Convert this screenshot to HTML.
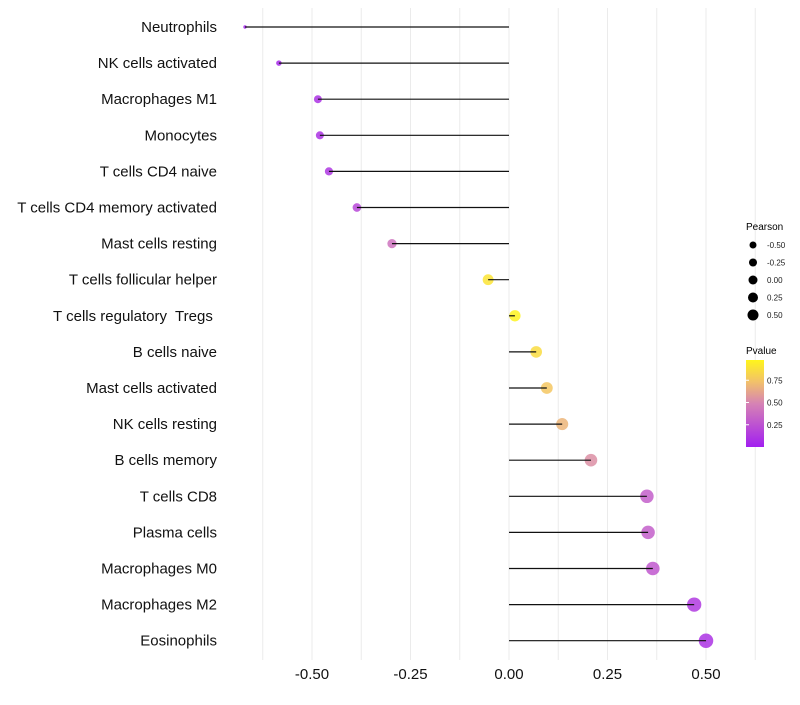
<!DOCTYPE html>
<html><head><meta charset="utf-8"><style>
body{margin:0;background:#fff;}
svg text{font-family:"Liberation Sans",sans-serif;white-space:pre;}
</style></head><body>
<svg id="chart" width="800" height="700" xmlns="http://www.w3.org/2000/svg">
<defs><linearGradient id="pg" x1="0" y1="1" x2="0" y2="0">
<stop offset="0" stop-color="#a21ff0"/><stop offset="0.5" stop-color="#d683b4"/><stop offset="0.75" stop-color="#f2c16a"/><stop offset="1" stop-color="#fff51c"/></linearGradient></defs>
<g id="grid"></g>
<g id="marks"></g>
<g id="ylabels"></g>
<g id="xlabels"></g>
<g id="sizeLeg">
<text x="746" y="230" font-size="10">Pearson</text>
</g>
<g id="colLeg">
<text x="746" y="354" font-size="10">Pvalue</text>
<rect x="746" y="360" width="18" height="87" fill="url(#pg)"/>
</g>
</svg>
<script>
const categories=["Neutrophils","NK cells activated","Macrophages M1","Monocytes","T cells CD4 naive","T cells CD4 memory activated","Mast cells resting","T cells follicular helper","T cells regulatory  Tregs ","B cells naive","Mast cells activated","NK cells resting","B cells memory","T cells CD8","Plasma cells","Macrophages M0","Macrophages M2","Eosinophils"];
const pearson=[-0.67,-0.584,-0.485,-0.48,-0.457,-0.386,-0.297,-0.053,0.015,0.069,0.096,0.135,0.208,0.35,0.353,0.365,0.47,0.5];
const pvalue=[0.02,0.05,0.1,0.1,0.12,0.2,0.42,0.92,0.99,0.88,0.78,0.7,0.55,0.32,0.32,0.28,0.13,0.1];
const xTicks=[-0.5,-0.25,0,0.25,0.5];
const xTickLabels=["-0.50","-0.25","0.00","0.25","0.50"];
const sizeLegVals=[-0.5,-0.25,0,0.25,0.5];
const sizeLegLabels=["-0.50","-0.25","0.00","0.25","0.50"];
const colLegVals=[0.25,0.5,0.75];
const colLegLabels=["0.25","0.50","0.75"];

const NS="http://www.w3.org/2000/svg";
const xs=v=>509+v*394;
const ys=i=>27+i*36.1;
const rs=v=>v<-0.485?1.7+(v+0.67)/0.185*2.3:4+3.3*(v+0.485);
const rl=v=>4.5+2*v;
const stops=[[0,[162,31,240]],[0.5,[214,131,180]],[0.75,[242,193,106]],[1,[255,245,28]]];
function col(p){for(let k=1;k<stops.length;k++){if(p<=stops[k][0]){const a=stops[k-1],b=stops[k];const t=(p-a[0])/(b[0]-a[0]);const c=a[1].map((v,j)=>Math.round(v+(b[1][j]-v)*t));return `rgb(${c})`;}}return "rgb(255,245,28)";}
function mk(tag,at,parent){const e=document.createElementNS(NS,tag);for(const k in at)e.setAttribute(k,at[k]);document.getElementById(parent).appendChild(e);return e;}
for(let v=-0.625;v<=0.626;v+=0.125){
 const g=mk("line",{x1:xs(v),x2:xs(v),y1:8,y2:660,stroke:"#ebebeb","stroke-width":1},"grid");
 
 
}
categories.forEach((c,i)=>{
 const y=ys(i);
 const p=mk("circle",{cx:xs(pearson[i]),cy:y,r:rs(pearson[i]),fill:col(pvalue[i]),"fill-opacity":0.85},"marks");
 
 
 const l=mk("line",{x1:xs(0),x2:xs(pearson[i]),y1:y,y2:y,stroke:"#111","stroke-width":1.2},"marks");
 
 
 const t=mk("text",{x:217,y:y+5,"text-anchor":"end","font-size":15,fill:"#111"},"ylabels");
 t.textContent=c;
 
 
});
xTicks.forEach((v,i)=>{
 const t=mk("text",{x:xs(v),y:679,"text-anchor":"middle","font-size":15,fill:"#111"},"xlabels");
 t.textContent=xTickLabels[i];
 
 
});
sizeLegVals.forEach((v,i)=>{
 const y=245+i*17.5;
 const c=mk("circle",{cx:753,cy:y,r:rl(v),fill:"#000"},"sizeLeg");
 
 
 const t=mk("text",{x:767,y:y+3,"font-size":8,fill:"#1a1a1a"},"sizeLeg");
 t.textContent=sizeLegLabels[i];
 
 
});
colLegVals.forEach((v,i)=>{
 const y=447-v*89;
 const t=mk("text",{x:767,y:y+3,"font-size":8,fill:"#1a1a1a"},"colLeg");
 t.textContent=colLegLabels[i];
 
 
 const tk=mk("line",{x1:746,x2:749,y1:y,y2:y,stroke:"#fff"},"colLeg");
 
 
});
</script>
</body></html>
